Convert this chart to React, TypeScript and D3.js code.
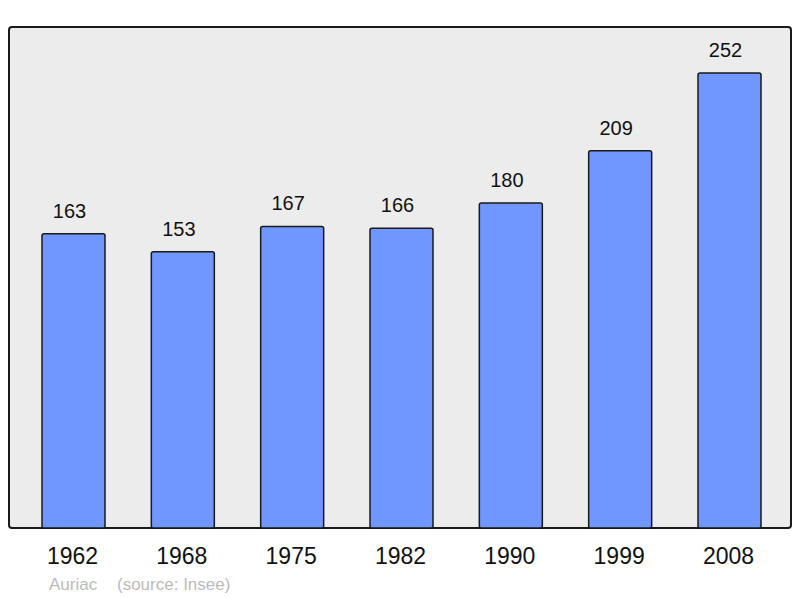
import React from 'react';
import * as d3 from 'd3';

const years = ['1962', '1968', '1975', '1982', '1990', '1999', '2008'];
const population = [163, 153, 167, 166, 180, 209, 252];
const commune = 'Auriac';
const sourceNote = '(source: Insee)';

const W = 800;
const H = 598;

export default function App() {
  const x = d3.scalePoint<string>().domain(years).range([73.5, 729.5]);
  const y = d3.scaleLinear().domain([0, 252]).range([528, 73]);
  const barW = 63;
  const font = '"Liberation Sans", Arial, sans-serif';

  return (
    <svg width={W} height={H} style={{ position: 'absolute', left: 0, top: 0 }}>
      <rect x={9} y={27} width={782} height={501} rx={3} fill="#ececec" stroke="#1a1a1a" strokeWidth={2} />
      {years.map((yr, i) => {
        const cx = x(yr)!;
        const v = population[i];
        return (
          <g key={yr}>
            <rect x={cx - barW / 2} y={y(v)} width={barW} height={y(0) - y(v)} rx={2}
              fill="#7096ff" stroke="#1a1a1a" strokeWidth={1.5} />
            <text x={cx - 4} y={y(v) - 16} textAnchor="middle" fontFamily={font} fontSize={20} fill="#111">{v}</text>
            <text x={cx - 1} y={564} textAnchor="middle" fontFamily={font} fontSize={23} fill="#111">{yr}</text>
          </g>
        );
      })}
      <text x={49} y={590} fontFamily={font} fontSize={17} fill="#bbbbbb">{commune}</text>
      <text x={117} y={590} fontFamily={font} fontSize={17} fill="#bbbbbb">{sourceNote}</text>
    </svg>
  );
}
